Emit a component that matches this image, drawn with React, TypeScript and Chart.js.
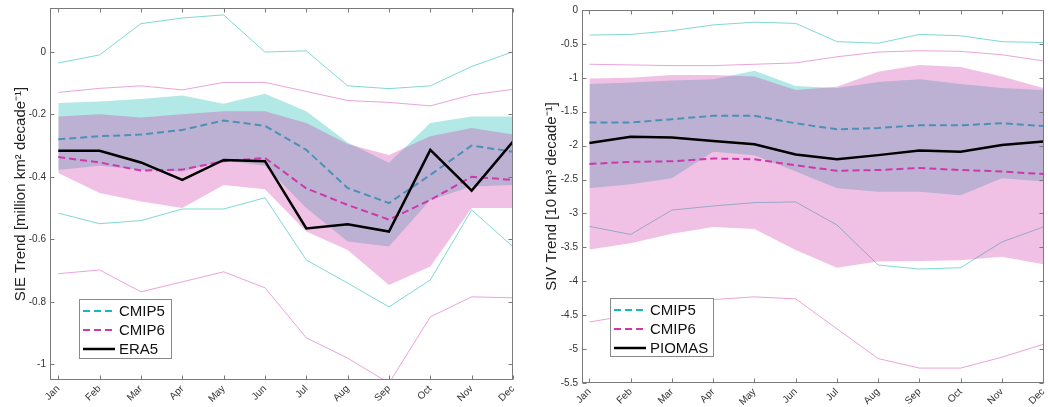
import React, { useEffect, useRef } from "react";
import { Chart, registerables } from "chart.js";

Chart.register(...registerables);

// ---------- data ----------
const months = ["Jan", "Feb", "Mar", "Apr", "May", "Jun", "Jul", "Aug", "Sep", "Oct", "Nov", "Dec"];
const monthIndex = [1, 2, 3, 4, 5, 6, 7, 8, 9, 10, 11, 12];

// SIE (left panel)
const sieCmip5Mean = [-0.28, -0.27, -0.265, -0.25, -0.22, -0.237, -0.314, -0.436, -0.484, -0.394, -0.3, -0.32];
const sieCmip6Mean = [-0.337, -0.354, -0.38, -0.377, -0.35, -0.34, -0.437, -0.49, -0.537, -0.474, -0.4, -0.41];
const sieEra5 = [-0.317, -0.317, -0.354, -0.41, -0.346, -0.35, -0.565, -0.552, -0.575, -0.314, -0.444, -0.287];
const sieCmip5Upper = [-0.164, -0.159, -0.151, -0.14, -0.166, -0.134, -0.19, -0.29, -0.355, -0.228, -0.207, -0.207];
const sieCmip5Lower = [-0.378, -0.365, -0.378, -0.383, -0.348, -0.365, -0.5, -0.607, -0.623, -0.474, -0.431, -0.426];
const sieCmip6Upper = [-0.207, -0.2, -0.21, -0.2, -0.19, -0.19, -0.228, -0.295, -0.33, -0.27, -0.244, -0.265];
const sieCmip6Lower = [-0.388, -0.452, -0.479, -0.5, -0.426, -0.44, -0.575, -0.634, -0.746, -0.687, -0.5, -0.5];
const sieCmip5Max = [-0.036, -0.01, 0.09, 0.108, 0.118, -0.001, 0.003, -0.109, -0.118, -0.109, -0.047, 0];
const sieCmip5Min = [-0.516, -0.55, -0.54, -0.503, -0.503, -0.467, -0.666, -0.74, -0.816, -0.73, -0.506, -0.624];
const sieCmip6Max = [-0.13, -0.117, -0.109, -0.122, -0.098, -0.098, -0.127, -0.156, -0.162, -0.173, -0.138, -0.12];
const sieCmip6Min = [-0.71, -0.698, -0.768, -0.736, -0.704, -0.755, -0.915, -0.98, -1.06, -0.848, -0.784, -0.787];
const sieYTicks = [0, -0.2, -0.4, -0.6, -0.8, -1];
const sieYTickLabels = ["0", "-0.2", "-0.4", "-0.6", "-0.8", "-1"];

// SIV (right panel)
const sivCmip5Mean = [-1.66, -1.66, -1.61, -1.56, -1.56, -1.67, -1.76, -1.74, -1.7, -1.7, -1.67, -1.71];
const sivCmip6Mean = [-2.27, -2.24, -2.23, -2.19, -2.2, -2.29, -2.37, -2.36, -2.33, -2.36, -2.38, -2.42];
const sivPiomas = [-1.96, -1.87, -1.88, -1.93, -1.98, -2.13, -2.2, -2.14, -2.07, -2.09, -1.99, -1.94];
const sivCmip5Upper = [-1.09, -1.07, -1.04, -1.02, -0.895, -1.12, -1.15, -1.06, -1.02, -1.09, -1.15, -1.18];
const sivCmip5Lower = [-2.63, -2.57, -2.48, -2.09, -2.14, -2.38, -2.63, -2.68, -2.68, -2.73, -2.48, -2.53];
const sivCmip6Upper = [-1.01, -1.0, -0.96, -0.96, -0.98, -1.18, -1.13, -0.91, -0.81, -0.84, -0.98, -1.15];
const sivCmip6Lower = [-3.53, -3.44, -3.3, -3.2, -3.23, -3.54, -3.8, -3.71, -3.7, -3.69, -3.64, -3.75];
const sivCmip5Max = [-0.37, -0.36, -0.305, -0.22, -0.18, -0.197, -0.467, -0.49, -0.36, -0.38, -0.467, -0.48];
const sivCmip5Min = [-3.19, -3.31, -2.95, -2.89, -2.84, -2.83, -3.17, -3.76, -3.82, -3.8, -3.42, -3.2];
const sivCmip6Max = [-0.8, -0.81, -0.82, -0.82, -0.8, -0.78, -0.69, -0.62, -0.6, -0.61, -0.66, -0.75];
const sivCmip6Min = [-4.6, -4.5, -4.35, -4.27, -4.23, -4.26, -4.7, -5.14, -5.28, -5.28, -5.12, -4.93];
const sivYTicks = [0, -0.5, -1, -1.5, -2, -2.5, -3, -3.5, -4, -4.5, -5, -5.5];
const sivYTickLabels = ["0", "-0.5", "-1", "-1.5", "-2", "-2.5", "-3", "-3.5", "-4", "-4.5", "-5", "-5.5"];

// ---------- styles ----------
const FONT = '"Liberation Sans", Arial, Helvetica, sans-serif';
const CYAN_FILL = "rgba(0,180,170,0.3)";
const PINK_FILL = "rgba(210,50,170,0.3)";
const CYAN_THIN = "rgba(0,180,170,0.5)";
const PINK_THIN = "rgba(210,50,170,0.45)";
const CYAN_MEAN = "rgb(20,185,190)";
const PINK_MEAN = "rgb(208,55,170)";
const OBS_COLOR = "#000000";
const FRAME = "#7a7a7a";

type PanelDef = {
  cmip5Mean: number[]; cmip6Mean: number[]; obs: number[]; obsLabel: string;
  cmip5Upper: number[]; cmip5Lower: number[]; cmip6Upper: number[]; cmip6Lower: number[];
  cmip5Max: number[]; cmip5Min: number[]; cmip6Max: number[]; cmip6Min: number[];
  yTicks: number[]; yTickLabels: string[]; yMin: number; yMax: number; xMin: number; xMax: number;
  yTitle: string; titlePad: number;
  yAxisWidth: number; xAxisHeight: number; padTop: number; padRight: number;
  legendBox: { x: number; y: number; w: number; h: number };
};

const pts = (vals: number[]) => vals.map((v, i) => ({ x: monthIndex[i], y: v }));

function buildDatasets(p: PanelDef): any[] {
  const thin = (vals: number[], color: string, order: number) => ({
    data: pts(vals), borderColor: color, borderWidth: 1, pointRadius: 0, fill: false, order, tension: 0,
  });
  const band = (vals: number[], fill: any, bg: string, order: number) => ({
    data: pts(vals), borderColor: "rgba(0,0,0,0)", borderWidth: 0, backgroundColor: bg, pointRadius: 0, fill, order, tension: 0,
  });
  return [
    band(p.cmip5Upper, "+1", CYAN_FILL, 6),
    band(p.cmip5Lower, false, CYAN_FILL, 6),
    thin(p.cmip5Max, CYAN_THIN, 5),
    thin(p.cmip5Min, CYAN_THIN, 5),
    { label: "CMIP5", data: pts(p.cmip5Mean), borderColor: CYAN_MEAN, borderWidth: 2, borderDash: [7, 4], pointRadius: 0, fill: false, order: 4, tension: 0 },
    band(p.cmip6Upper, "+1", PINK_FILL, 3),
    band(p.cmip6Lower, false, PINK_FILL, 3),
    thin(p.cmip6Max, PINK_THIN, 2),
    thin(p.cmip6Min, PINK_THIN, 2),
    { label: "CMIP6", data: pts(p.cmip6Mean), borderColor: PINK_MEAN, borderWidth: 2, borderDash: [7, 4], pointRadius: 0, fill: false, order: 1, tension: 0 },
    { label: p.obsLabel, data: pts(p.obs), borderColor: OBS_COLOR, borderWidth: 2.5, pointRadius: 0, fill: false, order: 0, tension: 0 },
  ];
}

function makeFramePlugin(p: PanelDef) {
  return {
    id: "frameTicks",
    afterDraw(chart: any) {
      const { ctx, chartArea: a, scales } = chart;
      ctx.save();
      ctx.strokeStyle = FRAME;
      ctx.lineWidth = 1;
      ctx.setLineDash([]);
      const l = Math.round(a.left) + 0.5, r = Math.round(a.right) - 0.5;
      const t = Math.round(a.top) + 0.5, b = Math.round(a.bottom) - 0.5;
      ctx.strokeRect(l, t, r - l, b - t);
      const tl = 4;
      ctx.beginPath();
      monthIndex.forEach((m) => {
        const x = Math.round(scales.x.getPixelForValue(m)) + 0.5;
        ctx.moveTo(x, b); ctx.lineTo(x, b - tl);
        ctx.moveTo(x, t); ctx.lineTo(x, t + tl);
      });
      p.yTicks.forEach((v) => {
        const y = Math.round(scales.y.getPixelForValue(v)) + 0.5;
        ctx.moveTo(l, y); ctx.lineTo(l + tl, y);
        ctx.moveTo(r, y); ctx.lineTo(r - tl, y);
      });
      ctx.stroke();

      // legend
      const lb = p.legendBox;
      ctx.fillStyle = "#ffffff";
      ctx.fillRect(lb.x, lb.y, lb.w, lb.h);
      ctx.strokeStyle = "#8a8a8a";
      ctx.strokeRect(lb.x + 0.5, lb.y + 0.5, lb.w, lb.h);
      const entries = chart.data.datasets.filter((d: any) => d.label);
      const rowH = 19;
      entries.forEach((d: any, i: number) => {
        const cy = lb.y + 12 + i * rowH;
        ctx.beginPath();
        ctx.strokeStyle = d.borderColor;
        ctx.lineWidth = d.borderWidth;
        ctx.setLineDash(d.borderDash || []);
        ctx.moveTo(lb.x + 4, cy);
        ctx.lineTo(lb.x + 36, cy);
        ctx.stroke();
        ctx.setLineDash([]);
        ctx.fillStyle = "#111";
        ctx.font = `15px ${FONT}`;
        ctx.textBaseline = "middle";
        ctx.textAlign = "left";
        ctx.fillText(d.label, lb.x + 40, cy + 1);
      });
      ctx.restore();
    },
  };
}

function Panel({ def, left }: { def: PanelDef; left: number }) {
  const ref = useRef<HTMLCanvasElement | null>(null);
  useEffect(() => {
    if (!ref.current) return;
    const chart = new Chart(ref.current, {
      type: "line",
      data: { datasets: buildDatasets(def) },
      options: {
        animation: false,
        responsive: false,
        events: [],
        layout: { padding: { top: def.padTop, right: def.padRight, left: 0, bottom: 0 } },
        plugins: { legend: { display: false }, tooltip: { enabled: false }, title: { display: false } },
        scales: {
          x: {
            type: "linear",
            min: def.xMin,
            max: def.xMax,
            grid: { display: false, drawTicks: false },
            border: { display: false },
            ticks: {
              autoSkip: false,
              maxRotation: 45,
              minRotation: 45,
              padding: 3,
              color: "#333",
              font: { size: 10, family: FONT },
              callback: (v: any) => months[monthIndex.indexOf(Number(v))] ?? "",
            },
            afterBuildTicks: (s: any) => { s.ticks = monthIndex.map((v) => ({ value: v })); },
            afterFit: (s: any) => { s.height = def.xAxisHeight; s.paddingLeft = 0; s.paddingRight = 0; },
          },
          y: {
            type: "linear",
            min: def.yMin,
            max: def.yMax,
            grid: { display: false, drawTicks: false },
            border: { display: false },
            ticks: {
              padding: 4,
              color: "#333",
              font: { size: 10, family: FONT },
              callback: (v: any) => {
                const i = def.yTicks.findIndex((t) => Math.abs(t - Number(v)) < 1e-9);
                return i >= 0 ? def.yTickLabels[i] : "";
              },
            },
            afterBuildTicks: (s: any) => { s.ticks = def.yTicks.map((v) => ({ value: v })); },
            afterFit: (s: any) => { s.width = def.yAxisWidth; s.paddingTop = 0; s.paddingBottom = 0; },
            title: {
              display: true,
              text: def.yTitle,
              color: "#222",
              font: { size: 15, family: FONT },
              padding: { top: def.titlePad, bottom: 0 },
            },
          },
        },
      } as any,
      plugins: [makeFramePlugin(def)],
    });
    return () => chart.destroy();
  }, [def]);
  return (
    <canvas
      ref={ref}
      width={524}
      height={407}
      style={{ position: "absolute", left, top: 0, width: 524, height: 407 }}
    />
  );
}

const leftDef: PanelDef = {
  cmip5Mean: sieCmip5Mean, cmip6Mean: sieCmip6Mean, obs: sieEra5, obsLabel: "ERA5",
  cmip5Upper: sieCmip5Upper, cmip5Lower: sieCmip5Lower, cmip6Upper: sieCmip6Upper, cmip6Lower: sieCmip6Lower,
  cmip5Max: sieCmip5Max, cmip5Min: sieCmip5Min, cmip6Max: sieCmip6Max, cmip6Min: sieCmip6Min,
  yTicks: sieYTicks, yTickLabels: sieYTickLabels, yMin: -1.05, yMax: 0.14, xMin: 0.8, xMax: 12,
  yTitle: "SIE Trend [million km² decade⁻¹]", titlePad: 12,
  yAxisWidth: 50, xAxisHeight: 27, padTop: 8, padRight: 11,
  legendBox: { x: 79, y: 299, w: 92, h: 59 },
};

const rightDef: PanelDef = {
  cmip5Mean: sivCmip5Mean, cmip6Mean: sivCmip6Mean, obs: sivPiomas, obsLabel: "PIOMAS",
  cmip5Upper: sivCmip5Upper, cmip5Lower: sivCmip5Lower, cmip6Upper: sivCmip6Upper, cmip6Lower: sivCmip6Lower,
  cmip5Max: sivCmip5Max, cmip5Min: sivCmip5Min, cmip6Max: sivCmip6Max, cmip6Min: sivCmip6Min,
  yTicks: sivYTicks, yTickLabels: sivYTickLabels, yMin: -5.5, yMax: 0, xMin: 0.82, xMax: 12.02,
  yTitle: "SIV Trend [10 km³ decade⁻¹]", titlePad: 19,
  yAxisWidth: 58, xAxisHeight: 24, padTop: 10, padRight: 4,
  legendBox: { x: 86, y: 298, w: 103, h: 58 },
};

export default function App() {
  return (
    <div style={{ position: "absolute", left: 0, top: 0, width: 1048, height: 407, background: "#fff", overflow: "hidden" }}>
      <Panel def={leftDef} left={0} />
      <Panel def={rightDef} left={524} />
    </div>
  );
}
